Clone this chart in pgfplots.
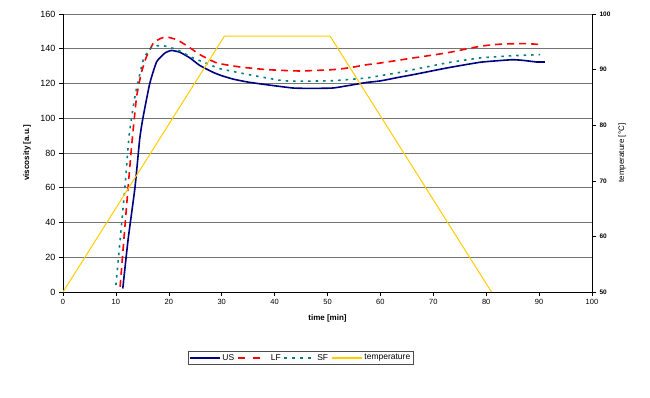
\documentclass[border=0pt]{standalone}
\usepackage{fontspec}
\setmainfont{Liberation Sans}
\usepackage{pgfplots}
\pgfplotsset{compat=1.18}
\definecolor{usc}{RGB}{0,0,128}
\definecolor{lfc}{RGB}{255,0,0}
\definecolor{sfc}{RGB}{0,128,128}
\definecolor{tc}{RGB}{255,204,0}
\begin{document}
\begin{tikzpicture}[x=1pt,y=1pt]
\begin{axis}[
 at={(0,0)}, anchor=south west,
 scale only axis, width=529pt, height=278pt,
 xmin=0, xmax=100, ymin=0, ymax=160,
 xtick={0,10,...,100}, ytick={0,20,...,160},
 axis x line*=bottom, axis y line*=left,
 axis line style={black, line width=0.6pt, -},
 tick align=outside, tick style={black, line width=0.6pt}, major tick length=4pt,
 ymajorgrids, grid style={black!55, line width=0.9pt},
 /pgf/number format/assume math mode=true,
 xticklabel style={font=\fontsize{7.5}{9}\selectfont},
 yticklabel style={font=\fontsize{9}{10}\selectfont},
 xlabel={\textbf{time [min]}}, ylabel={\textbf{viscosity [a.u.]}},
 label style={font=\fontsize{8}{9}\selectfont},
 xlabel style={at={(axis description cs:0.5,-0.094)}, anchor=center},
 ylabel style={at={(axis description cs:-0.068,0.5)}, anchor=center},
]
\addplot[usc, line width=1.6pt, smooth, tension=0.3] coordinates {
(11.3,2) (12.3,30) (13.6,60) (14.5,88) (15.1,100) (16.4,120) (17.7,132.5) (19.3,137.6) (20.5,139) (22.1,138) (24,134.7) (25.8,130.5) (28.4,126.4) (30,124.5) (32.2,122.5) (35,120.8) (38.5,119.3) (43.5,117.4) (47,117.2) (51,117.4) (54.3,119) (57.4,120.6) (60,121.5) (63.7,123.7) (66.2,125.1) (72.5,128.9) (78.8,132.2) (83,133.3) (85.1,133.7) (87,133.3) (89.5,132.4) (91.1,132.4)};
\addplot[lfc, line width=1.6pt, dash pattern=on 7pt off 5pt, smooth, tension=0.3] coordinates {
(10.8,3) (11.5,30) (12.3,60) (13,85) (13.9,112) (14.8,126) (15.8,135.6) (17.1,143.3) (18.5,146) (19.6,146.8) (21.5,145.2) (23.4,141.8) (25.9,136.6) (29.1,131.8) (33.5,129.5) (38.5,128) (44.8,127.2) (51.1,128) (54,129) (57.4,130.8) (60,131.8) (66.2,134.7) (72.5,137.6) (78.8,141.4) (82,142.5) (85.1,142.9) (88,142.9) (90.2,142.4)};
\addplot[sfc, line width=1.6pt, dash pattern=on 2.5pt off 5pt, smooth, tension=0.3] coordinates {
(10,4) (10.8,30) (11.7,60) (12.5,90) (13.6,112.6) (15.2,133.7) (16.8,141) (18.9,141.8) (21.5,139.5) (24.6,134.7) (27.8,130.8) (29.7,128.5) (35.3,125) (41.6,121.6) (46,121.4) (51.1,121.6) (57.4,123.2) (60,124.5) (63.7,126.4) (66.2,128) (72.5,131.8) (78.8,134.7) (85.1,136) (90.2,136.6)};
\end{axis}
\begin{axis}[
 at={(0,0)}, anchor=south west,
 scale only axis, width=529pt, height=278pt,
 xmin=0, xmax=100, ymin=50, ymax=100,
 axis x line=none, axis y line*=right,
 axis line style={black, line width=0.6pt, -},
 ytick={50,60,...,100},
 tick align=outside, tick style={black, line width=0.6pt}, major tick length=4pt,
 /pgf/number format/assume math mode=true,
 yticklabel style={font=\bfseries\fontsize{6.5}{7}\selectfont},
 ylabel={temperature [°C]},
 ylabel style={font=\fontsize{8}{9}\selectfont, at={(axis description cs:1.057,0.5)}, anchor=center},
 legend style={at={(axis description cs:0.449,-0.237)}, anchor=center, draw=black!70,
   font=\fontsize{8.5}{9.5}\selectfont, inner sep=1pt,
   /tikz/every even column/.append style={column sep=1pt}},
 legend columns=4,
 legend image code/.code={\draw[#1] (0pt,0pt) -- (30pt,0pt);},
]
\addlegendimage{usc, line width=1.6pt}
\addlegendentry{US}
\addlegendimage{lfc, line width=1.6pt, dash pattern=on 7pt off 8pt}
\addlegendentry{LF}
\addlegendimage{sfc, line width=1.6pt, dash pattern=on 2.5pt off 5.5pt}
\addlegendentry{SF}
\addlegendimage{draw=tc, line width=1.3pt}
\addlegendentry{temperature}
\addplot[draw=tc, line width=1pt, forget plot] coordinates {(0,50) (30.5,96) (50.5,96) (81,50)};
\end{axis}
\pgfresetboundingbox
\path (-63pt,-105pt) rectangle (587pt,292pt);
\end{tikzpicture}
\end{document}
